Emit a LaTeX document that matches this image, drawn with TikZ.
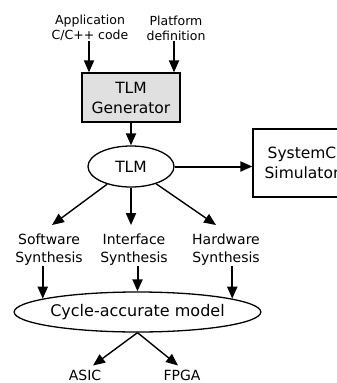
\documentclass[tikz,border=0pt]{standalone}
\usepackage{fontspec}
\setmainfont{DejaVu Sans}
\usetikzlibrary{arrows.meta,shapes.geometric}
\begin{document}
\begin{tikzpicture}[x=1pt,y=-1pt,
  arr/.style={line width=2pt,-{Triangle[length=12pt,width=10pt]}},
  thin/.style={line width=1.4pt},
  small/.style={font=\fontsize{12.5}{15}\selectfont,align=center,inner sep=0pt},
  mid/.style={font=\fontsize{14}{18}\selectfont,align=center,inner sep=0pt},
  big/.style={font=\fontsize{15.5}{20}\selectfont,align=center},
  boxed/.style={draw,line width=1.3pt,minimum width=98pt},
  ell/.style={draw,ellipse,line width=1.3pt,inner sep=0pt}]
\useasboundingbox (0,0) rectangle (337,383);
\node[small] (app) at (90,28) {Application\\C/C++ code};
\node[small] (plat) at (176,28) {Platform\\definition};
\node[big,boxed,fill=black!12,minimum height=49pt] (gen) at (131,97.5) {TLM\\Generator};
\node[big,ell,minimum width=86pt,minimum height=41pt] (tlm) at (131,166.5) {TLM};
\node[big,boxed,minimum height=68pt] (sysc) at (302,163) {SystemC\\Simulator};
\node[mid] (sw) at (49,250) {Software\\Synthesis};
\node[mid] (ifs) at (134,250) {Interface\\Synthesis};
\node[mid] (hw) at (226,250) {Hardware\\Synthesis};
\node[big,ell,minimum width=233pt,minimum height=40pt,font=\fontsize{16}{20}\selectfont] (cyc) at (137.5,312) {Cycle-accurate model};
\node[mid] (asic) at (85,375) {ASIC};
\node[mid] (fpga) at (182,375) {FPGA};
\draw[arr] ([xshift=-1pt]app.south) -- ([xshift=-1pt]app.south |- gen.north);
\draw[arr] ([xshift=-2pt]plat.south) -- ([xshift=-2pt]plat.south |- gen.north);
\draw[arr] (gen.south) -- (tlm.north);
\draw[arr] (tlm.east) -- (tlm.east -| sysc.west);
\draw[arr,thin] (tlm) -- ([xshift=3pt,yshift=9pt]sw.north);
\draw[arr] (tlm.south) -- ([yshift=9pt]tlm.south |- ifs.north);
\draw[arr,thin] (tlm) -- ([xshift=-10pt,yshift=9pt]hw.north);
\draw[arr] (sw.south -| cyc.172.9) -- (cyc.172.9);
\draw[arr] (ifs.south -| cyc.north) -- (cyc.north);
\draw[arr] (hw.south -| cyc.8.3) -- (cyc.8.3);
\draw[arr,thin] (cyc.south) -- ([xshift=8pt,yshift=4pt]asic.north);
\draw[arr,thin] (cyc.south) -- ([xshift=-4pt,yshift=4pt]fpga.north);
\end{tikzpicture}
\end{document}
